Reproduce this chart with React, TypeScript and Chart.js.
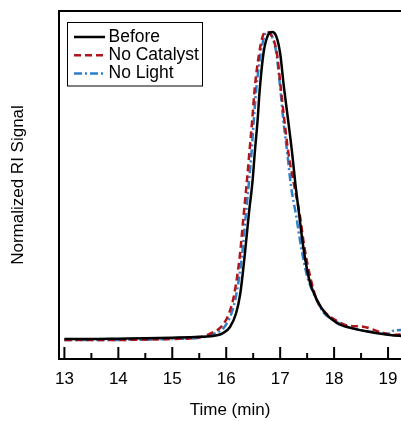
import React, { useEffect, useRef } from "react";
import { Chart, registerables } from "chart.js";

Chart.register(...registerables);

// ---- data ----
const beforeTime = [13.0, 13.5, 14.0, 14.5, 15.0, 15.5, 15.8, 15.94, 16.07, 16.18, 16.26, 16.34, 16.42, 16.49, 16.53, 16.58, 16.62, 16.69, 16.77, 16.85, 16.93, 17.0, 17.07, 17.15, 17.22, 17.28, 17.35, 17.43, 17.54, 17.68, 17.83, 18.05, 18.3, 18.67, 19.04, 19.3];
const beforeSignal = [0.003, 0.003, 0.004, 0.005, 0.007, 0.010, 0.014, 0.022, 0.042, 0.085, 0.15, 0.27, 0.41, 0.52, 0.61, 0.71, 0.81, 0.93, 0.988, 1.0, 0.985, 0.93, 0.82, 0.71, 0.61, 0.51, 0.41, 0.30, 0.195, 0.13, 0.088, 0.055, 0.039, 0.026, 0.016, 0.012];

const noCatTime = [13.0, 14.0, 15.0, 15.5, 15.73, 15.92, 16.06, 16.15, 16.25, 16.32, 16.38, 16.43, 16.48, 16.53, 16.61, 16.68, 16.75, 16.85, 16.94, 17.01, 17.08, 17.15, 17.25, 17.36, 17.45, 17.57, 17.68, 17.83, 18.02, 18.24, 18.54, 18.85, 19.1, 19.3];
const noCatSignal = [0.0, 0.0, 0.003, 0.008, 0.023, 0.045, 0.09, 0.15, 0.27, 0.40, 0.51, 0.61, 0.71, 0.82, 0.93, 0.988, 1.0, 0.985, 0.93, 0.82, 0.71, 0.61, 0.51, 0.41, 0.30, 0.195, 0.13, 0.09, 0.065, 0.047, 0.043, 0.026, 0.016, 0.018];

const noLightTime = [13.0, 14.0, 15.0, 15.5, 15.78, 15.97, 16.1, 16.19, 16.29, 16.36, 16.42, 16.47, 16.51, 16.56, 16.64, 16.71, 16.77, 16.85, 16.93, 17.0, 17.06, 17.13, 17.2, 17.3, 17.38, 17.45, 17.52, 17.65, 17.8, 17.98, 18.33, 18.7, 19.04, 19.1, 19.3];
const noLightSignal = [0.0, 0.0, 0.003, 0.007, 0.02, 0.043, 0.088, 0.15, 0.27, 0.40, 0.51, 0.61, 0.71, 0.82, 0.93, 0.988, 1.0, 0.985, 0.93, 0.82, 0.71, 0.61, 0.5, 0.40, 0.31, 0.245, 0.195, 0.14, 0.09, 0.065, 0.039, 0.026, 0.02, 0.03, 0.032];

const seriesLabels = ["Before", "No Catalyst", "No Light"];
const xTickStep = 0.5;

const FONT = "'Liberation Sans', Arial, sans-serif";

const toPoints = (t: number[], v: number[]) => t.map((x, i) => ({ x, y: v[i] }));

const framePlugin = {
  id: "frame",
  afterDatasetsDraw(chart: any) {
    const { ctx, chartArea } = chart;
    const { left, right, top, bottom } = chartArea;
    const xs = chart.scales.x;
    ctx.save();
    ctx.strokeStyle = "#000";
    ctx.lineWidth = 2;
    ctx.beginPath();
    ctx.moveTo(right + 2, top);
    ctx.lineTo(left, top);
    ctx.lineTo(left, bottom);
    ctx.lineTo(right + 2, bottom);
    ctx.stroke();
    // inward ticks from the x scale
    xs.ticks.forEach((tk: any) => {
      const px = xs.getPixelForValue(tk.value);
      const major = Math.abs(tk.value - Math.round(tk.value)) < 1e-6;
      const len = major ? 12 : 6;
      ctx.beginPath();
      ctx.moveTo(px, bottom);
      ctx.lineTo(px, bottom - len);
      ctx.stroke();
    });
    // legend
    const bx = 67.5, by = 22.5, bw = 135, bh = 63.5;
    ctx.fillStyle = "#fff";
    ctx.fillRect(bx, by, bw, bh);
    ctx.lineWidth = 1;
    ctx.strokeRect(bx, by, bw, bh);
    ctx.font = `17.5px ${FONT}`;
    ctx.textBaseline = "middle";
    ctx.textAlign = "left";
    chart.data.datasets.forEach((ds: any, i: number) => {
      const cy = 37 + i * 18.3;
      ctx.save();
      ctx.strokeStyle = ds.borderColor;
      ctx.lineWidth = ds.borderWidth;
      ctx.setLineDash(ds.borderDash || []);
      ctx.beginPath();
      ctx.moveTo(74, cy);
      ctx.lineTo(105, cy);
      ctx.stroke();
      ctx.restore();
      ctx.fillStyle = "#000";
      ctx.fillText(ds.label, 108.5, cy);
    });
    ctx.restore();
  },
};

export default function App() {
  const ref = useRef<HTMLCanvasElement>(null);
  useEffect(() => {
    if (!ref.current) return;
    const chart = new Chart(ref.current, {
      type: "line",
      data: {
        datasets: [
          {
            label: seriesLabels[0],
            data: toPoints(beforeTime, beforeSignal),
            borderColor: "#000000",
            borderWidth: 2.5,
            borderDash: [],
            pointRadius: 0,
            cubicInterpolationMode: "monotone",
            fill: false,
          },
          {
            label: seriesLabels[1],
            data: toPoints(noCatTime, noCatSignal),
            borderColor: "#b0151c",
            borderWidth: 2.5,
            borderDash: [7, 4],
            pointRadius: 0,
            cubicInterpolationMode: "monotone",
            fill: false,
          },
          {
            label: seriesLabels[2],
            data: toPoints(noLightTime, noLightSignal),
            borderColor: "#2f7fc8",
            borderWidth: 2.5,
            borderDash: [8, 3, 2, 3],
            pointRadius: 0,
            cubicInterpolationMode: "monotone",
            fill: false,
          },
        ],
      },
      options: {
        animation: false,
        responsive: false,
        devicePixelRatio: 1,
        layout: { padding: { top: 11, right: 0, left: 0, bottom: 0 } },
        plugins: { legend: { display: false }, tooltip: { enabled: false } },
        scales: {
          x: {
            type: "linear",
            position: "bottom",
            min: 12.9,
            max: 19.24,
            grid: { display: false, drawTicks: false },
            border: { display: false },
            ticks: {
              stepSize: xTickStep,
              includeBounds: false,
              autoSkip: false,
              maxRotation: 0,
              padding: 10,
              color: "#000",
              font: { family: FONT, size: 17 },
              callback: (v: any) => (Number.isInteger(v) ? String(v) : ""),
            },
            title: {
              display: true,
              text: "Time (min)",
              color: "#000",
              font: { family: FONT, size: 17 },
              padding: { top: 0, bottom: 0 },
            },
            afterFit: (s: any) => {
              s.height = 62;
              s.paddingLeft = 0;
              s.paddingRight = 0;
            },
          },
          y: {
            type: "linear",
            position: "left",
            min: -0.062,
            max: 1.068,
            grid: { display: false, drawTicks: false },
            border: { display: false },
            ticks: { display: false },
            title: {
              display: true,
              text: "Normalized RI Signal",
              color: "#000",
              font: { family: FONT, size: 17 },
              padding: { top: 8, bottom: 0 },
            },
            afterFit: (s: any) => {
              s.width = 59;
              s.paddingTop = 0;
              s.paddingBottom = 0;
            },
          },
        },
      },
      plugins: [framePlugin],
    });
    return () => chart.destroy();
  }, []);
  return (
    <div style={{ position: "fixed", left: 0, top: 0, width: 401, height: 421, background: "#fff" }}>
      <canvas ref={ref} width={401} height={421} style={{ display: "block" }} />
    </div>
  );
}
